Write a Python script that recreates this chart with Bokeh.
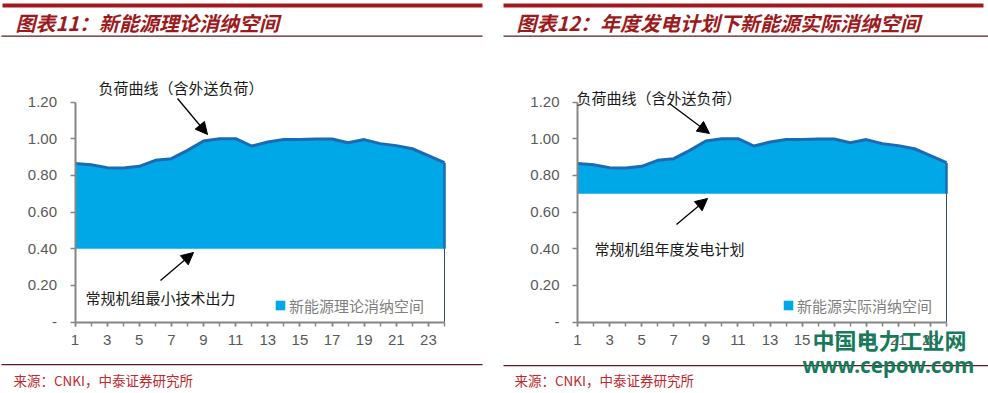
from bokeh.plotting import figure
from bokeh.layouts import row
from bokeh.models import (Range1d, FixedTicker, PrintfTickFormatter, Label, Arrow, NormalHead,
                          BoxAnnotation, Legend, LegendItem)
from bokeh.embed import file_html
from bokeh.resources import INLINE

# ---------------- data ----------------
hours = list(range(1, 25))
x_label_hours = [h for h in hours if h % 2 == 1]
y_ticks = [0, 0.2, 0.4, 0.6, 0.8, 1.0, 1.2]
load_curve = [0.864, 0.858, 0.842, 0.840, 0.849, 0.882, 0.891, 0.936, 0.987, 1.000, 1.000, 0.960,
              0.982, 0.995, 0.995, 0.998, 0.998, 0.978, 0.995, 0.973, 0.962, 0.945, 0.907, 0.869]
base_min_output = 0.40      # 常规机组最小技术出力
base_annual_plan = 0.70     # 常规机组年度发电计划

title_left = "图表11：新能源理论消纳空间"
title_right = "图表12：年度发电计划下新能源实际消纳空间"
legend_left = "新能源理论消纳空间"
legend_right = "新能源实际消纳空间"
note_load = "负荷曲线（含外送负荷）"
note_base_left = "常规机组最小技术出力"
note_base_right = "常规机组年度发电计划"
source_text = "来源：CNKI，中泰证券研究所"
wm_cn = "中国电力工业网"
wm_url = "www.cepow.com"

# ---------------- styles ----------------
AREA = "#00A8E8"
EDGE = "#1A6BB3"
AXIS = "#868686"
TICKTXT = "#595959"
DARKRED = "#9C1A1C"
BAR = "#A3191F"
RULE = "#5C1A1A"
SRC = "#C0282D"
WM = "#177A5B"
CJK = "Noto Sans CJK SC"

W = 494
H = 393
PLOT_TOP = 101.5     # page y of value 1.2
PLOT_BOTTOM = 321.5  # page y of value 0


def make_panel(page_x0, axis_x, end_x, base, title, legend_label,
               note_base, note_load_xy, arrow1, note_base_xy, arrow2, legend_xy,
               bar_x, rule_x, bottom_rule_y, watermark=False):
    # frame covers the whole canvas; ranges chosen so the chart area sits where it should
    kx = (end_x - axis_x) / (hours[-1] - hours[0])
    x0 = hours[0] - (axis_x - page_x0) / kx
    ky = (PLOT_BOTTOM - PLOT_TOP) / (y_ticks[-1] - y_ticks[0])
    y0 = y_ticks[0] - (H - PLOT_BOTTOM) / ky
    p = figure(width=W, height=H, output_backend="svg", toolbar_location=None,
               x_range=Range1d(x0, x0 + W / kx), y_range=Range1d(y0, y0 + H / ky),
               min_border=0)
    p.min_border_left = 0
    p.min_border_right = 0
    p.min_border_top = 0
    p.min_border_bottom = 0
    p.outline_line_color = None
    p.grid.visible = False
    p.background_fill_color = "white"
    p.border_fill_color = "white"

    def sx(x):
        return x - page_x0

    def sy(y):
        return H - y

    # area
    area_r = p.varea(x=hours, y1=[base] * len(hours), y2=load_curve, fill_color=AREA, fill_alpha=1)
    p.line(hours, load_curve, line_width=3, color=EDGE)
    p.segment(x0=[hours[-1]], y0=[base], x1=[hours[-1]], y1=[load_curve[-1]], line_width=2.5, color=EDGE)
    p.segment(x0=[hours[-1]], y0=[y_ticks[0]], x1=[hours[-1]], y1=[base], line_width=1, color="#2F4F6F")

    # axes at fixed locations inside the frame
    for ax in (p.xaxis, p.yaxis):
        ax.axis_line_color = AXIS
        ax.axis_line_width = 2
        ax.major_tick_line_color = AXIS
        ax.major_tick_line_width = 1.5
        ax.minor_tick_line_color = AXIS
        ax.minor_tick_line_width = 1.5
        ax.major_tick_in = 0
        ax.minor_tick_in = 0
        ax.major_label_text_font = "Liberation Sans"
        ax.major_label_text_font_size = "15px"
        ax.major_label_text_color = TICKTXT
    p.xaxis.fixed_location = y_ticks[0]
    p.xaxis.bounds = (hours[0], hours[-1])
    p.xaxis.ticker = FixedTicker(ticks=x_label_hours, minor_ticks=hours)
    p.xaxis.major_tick_out = 4
    p.xaxis.minor_tick_out = 4
    p.xaxis.major_label_standoff = 9
    p.yaxis.fixed_location = hours[0]
    p.yaxis.bounds = (y_ticks[0], y_ticks[-1])
    p.yaxis.ticker = FixedTicker(ticks=y_ticks, minor_ticks=[])
    p.yaxis.formatter = PrintfTickFormatter(format="%.2f")
    p.yaxis.major_label_overrides = {0: "-"}
    p.yaxis.major_tick_out = 5
    p.yaxis.minor_tick_line_color = None
    p.yaxis.major_label_standoff = 13

    # legend
    legend = Legend(items=[LegendItem(label=legend_label, renderers=[area_r])],
                    location=(sx(legend_xy[0]), sy(legend_xy[1])), padding=0, margin=0,
                    glyph_width=12, glyph_height=12, label_standoff=3,
                    label_text_font=CJK, label_text_font_size="15px", label_text_color="#7F7F7F",
                    background_fill_alpha=0, border_line_color=None)
    p.add_layout(legend)

    def box(xa, xb, ya, yb, color):
        p.add_layout(BoxAnnotation(left=sx(xa), right=sx(xb), top=sy(ya), bottom=sy(yb),
                                   left_units="screen", right_units="screen",
                                   top_units="screen", bottom_units="screen",
                                   fill_color=color, fill_alpha=1, line_color=None, level="overlay"))

    def label(x, y, text, size, color, style="normal", font=CJK):
        p.add_layout(Label(x=sx(x), y=sy(y), x_units="screen", y_units="screen", text=text,
                           text_font=font, text_font_size=size, text_color=color,
                           text_font_style=style, text_baseline="middle", text_align="left",
                           level="overlay"))

    def arrow(a):
        (xa, ya), (xb, yb) = a
        p.add_layout(Arrow(x_start=sx(xa), y_start=sy(ya), x_end=sx(xb), y_end=sy(yb),
                           start_units="screen", end_units="screen", line_width=1.3, line_color="black",
                           end=NormalHead(size=12, fill_color="black", line_color="black")))

    # header
    box(bar_x[0], bar_x[1], 3, 7, BAR)
    label(bar_x[0] + 13, 21.5, title, "20px", DARKRED, "bold italic")
    box(rule_x[0], rule_x[1], 35, 36.3, RULE)

    # notes
    label(note_load_xy[0], note_load_xy[1], note_load, "15px", "#1A1A1A")
    arrow(arrow1)
    label(note_base_xy[0], note_base_xy[1], note_base, "15px", "#1A1A1A")
    arrow(arrow2)

    # footer
    box(rule_x[0], rule_x[1], bottom_rule_y, bottom_rule_y + 1.3, RULE)
    label(bar_x[0] + 11, 379, source_text, "13.5px", SRC)

    if watermark:
        label(812, 338, wm_cn, "22px", WM, "bold")
        label(802, 364, wm_url, "20.5px", WM, "bold", font="Noto Sans")
    return p


p1 = make_panel(0, 74.5, 444, base_min_output, title_left, legend_left, note_base_left,
                (98, 86.5), ((177, 98), (207, 134)), (85, 297), ((160, 280), (193, 252)),
                (274, 315.5), (2, 482), (1, 482), 363.5)
p2 = make_panel(494, 577, 946, base_annual_plan, title_right, legend_right, note_base_right,
                (576, 97), ((669, 103), (709, 133)), (594, 248), ((676, 224), (707, 198)),
                (782, 315.5), (503, 983), (503, 988), 364.5, watermark=True)

layout = row(p1, p2, spacing=0)
open("out.html", "w").write(file_html(layout, INLINE))
